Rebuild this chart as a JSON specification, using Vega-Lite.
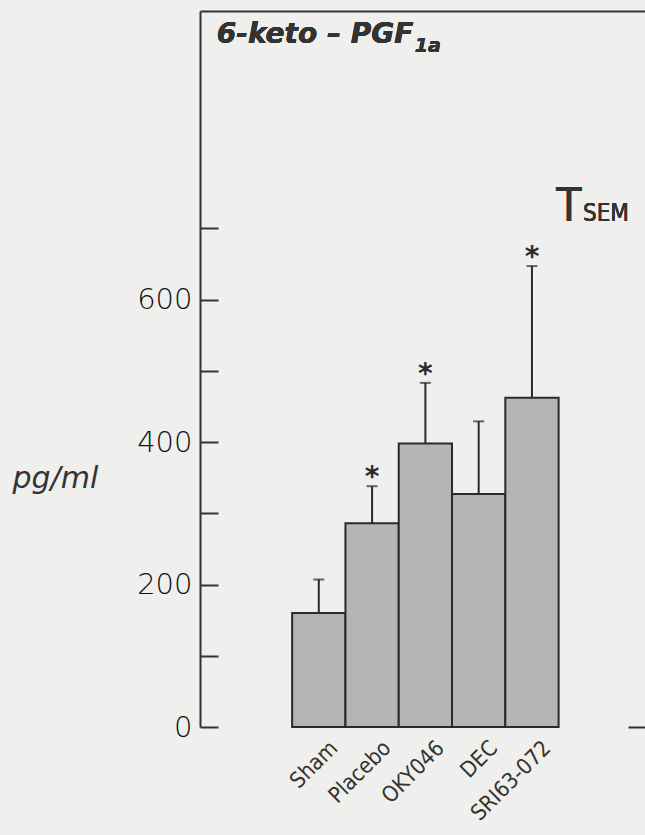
{
  "$schema": "https://vega.github.io/schema/vega-lite/v6.json",
  "width": 445,
  "height": 716,
  "autosize": {"type": "none"},
  "padding": {"left": 200, "top": 11, "right": 0, "bottom": 108},
  "background": "#efefed",
  "config": {
    "view": {"stroke": null},
    "axis": {"domainColor": "#333333", "tickColor": "#333333", "labelColor": "#333333", "titleColor": "#333333", "grid": false, "domainWidth": 2, "tickWidth": 2}
  },
  "data": {
    "values": [
      {"group": "Sham", "mean": 160, "upper": 207, "sig": false},
      {"group": "Placebo", "mean": 286, "upper": 338, "sig": true},
      {"group": "OKY046", "mean": 398, "upper": 483, "sig": true},
      {"group": "DEC", "mean": 327, "upper": 429, "sig": false},
      {"group": "SRI63-072", "mean": 462, "upper": 647, "sig": true}
    ]
  },
  "layer": [
    {
      "mark": {"type": "bar", "fill": "#b5b5b5", "stroke": "#2a2a2a", "strokeWidth": 2},
      "encoding": {
        "x": {
          "field": "group", "type": "nominal", "sort": null,
          "scale": {"domain": [" ", "Sham", "Placebo", "OKY046", "DEC", "SRI63-072", "  "], "paddingInner": 0, "paddingOuter": 0.675, "align": 0.54},
          "axis": {"orient": "bottom", "title": null, "domain": false, "ticks": false, "labelAngle": -45, "labelPadding": 10, "labelOffset": 8, "labelFont": "DejaVu Sans Condensed", "labelFontSize": 22}
        },
        "y": {
          "field": "mean", "type": "quantitative",
          "scale": {"domain": [0, 1005], "nice": false},
          "axis": {
            "orient": "left",
            "values": [0, 100, 200, 300, 400, 500, 600, 700],
            "labelExpr": "datum.value % 200 == 0 ? datum.label : ''",
            "tickSize": -18,
            "labelPadding": 26,
            "labelFont": "DejaVu Sans",
            "labelFontWeight": 200,
            "labelColor": "#111111",
            "labelFontSize": 29,
            "title": "pg/ml",
            "titleAngle": 0,
            "titleAlign": "left",
            "titleBaseline": "alphabetic",
            "titleX": -188,
            "titleY": 476,
            "titleFont": "DejaVu Sans",
            "titleFontStyle": "italic",
            "titleFontWeight": "normal",
            "titleFontSize": 30
          }
        }
      }
    },
    {
      "mark": {"type": "rule", "stroke": "#2a2a2a", "strokeWidth": 2},
      "encoding": {
        "x": {"field": "group", "type": "nominal", "sort": null,
          "axis": {"orient": "top", "title": null, "labels": false, "ticks": false, "domain": true}},
        "y": {"field": "mean", "type": "quantitative",
          "axis": {"orient": "right", "values": [0], "labels": false, "domain": false, "tickSize": -17, "title": null}},
        "y2": {"field": "upper"}
      }
    },
    {
      "mark": {"type": "tick", "color": "#2a2a2a", "size": 11, "thickness": 2},
      "encoding": {
        "x": {"field": "group", "type": "nominal", "sort": null, "axis": null},
        "y": {"field": "upper", "type": "quantitative", "axis": null}
      }
    },
    {
      "transform": [{"filter": "datum.sig"}],
      "mark": {"type": "text", "text": "*", "font": "DejaVu Sans", "fontSize": 28, "fontWeight": "bold", "color": "#2a2a2a", "baseline": "middle", "dy": -8},
      "encoding": {
        "x": {"field": "group", "type": "nominal", "sort": null, "axis": null},
        "y": {"field": "upper", "type": "quantitative", "axis": null}
      }
    },
    {
      "mark": {"type": "text", "text": "6-keto – PGF", "font": "DejaVu Sans", "fontSize": 28, "fontStyle": "italic", "fontWeight": "bold", "color": "#333333", "align": "left", "baseline": "alphabetic", "dx": -102},
      "encoding": {
        "x": {"datum": "Sham", "type": "nominal", "axis": null},
        "y": {"datum": 960, "type": "quantitative", "axis": null}
      }
    },
    {
      "mark": {"type": "text", "text": "1a", "font": "DejaVu Sans", "fontSize": 19, "fontStyle": "italic", "fontWeight": "bold", "color": "#333333", "align": "left", "baseline": "alphabetic", "dx": 96, "dy": 9},
      "encoding": {
        "x": {"datum": "Sham", "type": "nominal", "axis": null},
        "y": {"datum": 960, "type": "quantitative", "axis": null}
      }
    },
    {
      "mark": {"type": "text", "text": "T", "font": "DejaVu Sans Condensed", "fontSize": 46, "fontWeight": 200, "color": "#333333", "align": "center", "baseline": "alphabetic", "dx": 37},
      "encoding": {
        "x": {"datum": "SRI63-072", "type": "nominal", "axis": null},
        "y": {"datum": 710, "type": "quantitative", "axis": null}
      }
    },
    {
      "mark": {"type": "text", "text": "SEM", "font": "DejaVu Sans Condensed", "fontSize": 24, "color": "#333333", "align": "left", "baseline": "alphabetic", "dx": 51},
      "encoding": {
        "x": {"datum": "SRI63-072", "type": "nominal", "axis": null},
        "y": {"datum": 710, "type": "quantitative", "axis": null}
      }
    }
  ]
}
